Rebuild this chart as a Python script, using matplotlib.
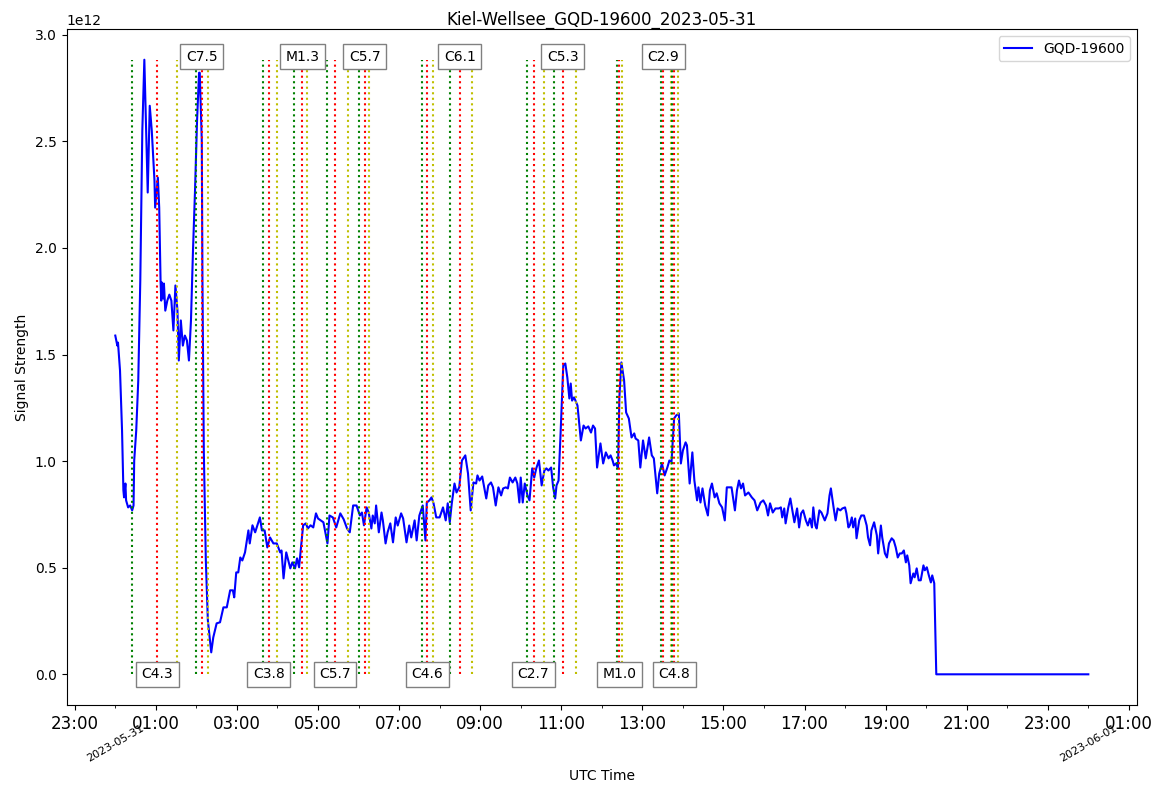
import matplotlib
matplotlib.use("Agg")
import matplotlib.pyplot as plt
import matplotlib.dates as mdates
import numpy as np

# Signal readings: minutes after 2023-05-31 00:00 UTC, value in units of 1e12
minutes = [0, 3, 4, 7, 10, 12, 13, 15, 16, 19, 22, 25, 27, 28, 31, 34, 37, 40, 43, 48,
           51, 54, 58, 59, 63, 65, 67, 68, 69, 71, 72, 74, 77, 80, 83, 86, 89, 92, 94, 97,
           100, 103, 106, 109, 112, 115, 118, 121, 124, 125, 128, 129, 131, 134, 137, 142,
           145, 150, 155, 160, 165, 170, 174, 176, 179, 182, 185, 188, 192, 197, 199, 203,
           207, 214, 217, 221, 225, 229, 234, 239, 244, 246, 249, 253, 256, 259, 262, 266,
           269, 272, 278, 282, 285, 289, 293, 297, 300, 308, 314, 317, 322, 327, 333, 338,
           343, 347, 352, 357, 362, 365, 368, 372, 375, 379, 381, 384, 386, 390, 394, 396,
           400, 403, 407, 411, 415, 418, 423, 426, 431, 435, 438, 443, 446, 450, 455, 459,
           461, 465, 468, 471, 475, 480, 485, 489, 492, 495, 498, 502, 505, 509, 513, 518,
           522, 526, 530, 534, 536, 539, 543, 546, 549, 552, 556, 559, 563, 567, 571, 574,
           578, 581, 584, 588, 592, 595, 598, 600, 603, 606, 610, 613, 617, 620, 623, 627,
           631, 635, 638, 641, 645, 648, 651, 653, 656, 659, 663, 666, 669, 672, 674, 676,
           679, 684, 689, 693, 696, 700, 704, 707, 710, 713, 718, 722, 726, 730, 733, 736,
           738, 741, 744, 746, 749, 753, 756, 760, 764, 768, 770, 774, 777, 781, 785, 790,
           794, 797, 802, 805, 809, 813, 817, 820, 823, 827, 830, 834, 837, 840, 844, 846,
           850, 854, 857, 861, 863, 866, 869, 873, 877, 880, 883, 887, 890, 894, 898, 902,
           905, 912, 917, 920, 923, 926, 929, 932, 937, 942, 946, 950, 955, 959, 963, 966,
           969, 973, 977, 982, 985, 987, 990, 992, 996, 999, 1002, 1005, 1009, 1012, 1015,
           1018, 1022, 1025, 1028, 1031, 1033, 1036, 1038, 1042, 1045, 1050, 1054, 1057,
           1059, 1063, 1066, 1069, 1073, 1076, 1080, 1082, 1085, 1087, 1090, 1092, 1095,
           1097, 1101, 1104, 1108, 1112, 1114, 1117, 1119, 1123, 1127, 1129, 1133, 1135,
           1139, 1142, 1145, 1149, 1152, 1155, 1158, 1161, 1164, 1167, 1170, 1172, 1175,
           1177, 1181, 1183, 1186, 1189, 1192, 1196, 1198, 1201, 1204, 1207, 1209, 1212,
           1215, 1300, 1440]
signal = [1.589, 1.542, 1.556, 1.425, 1.144, 0.863, 0.830, 0.895, 0.816, 0.783, 0.792, 0.769,
          0.792, 1.003, 1.144, 1.378, 1.847, 2.550, 2.883, 2.260, 2.667, 2.550, 2.316, 2.189,
          2.330, 2.189, 1.847, 1.753, 1.838, 1.763, 1.833, 1.706, 1.753, 1.781, 1.753, 1.613,
          1.824, 1.706, 1.472, 1.660, 1.542, 1.589, 1.566, 1.472, 1.660, 1.988, 2.269, 2.597,
          2.822, 2.822, 2.503, 1.847, 1.050, 0.534, 0.253, 0.103, 0.173, 0.239, 0.244, 0.314,
          0.314, 0.394, 0.394, 0.361, 0.478, 0.478, 0.548, 0.534, 0.572, 0.675, 0.614, 0.699,
          0.666, 0.736, 0.675, 0.675, 0.595, 0.642, 0.614, 0.614, 0.572, 0.581, 0.450, 0.572,
          0.534, 0.497, 0.525, 0.497, 0.544, 0.502, 0.699, 0.708, 0.684, 0.699, 0.689, 0.755,
          0.731, 0.713, 0.614, 0.745, 0.736, 0.689, 0.755, 0.727, 0.684, 0.666, 0.792, 0.792,
          0.745, 0.759, 0.699, 0.783, 0.759, 0.684, 0.745, 0.708, 0.792, 0.666, 0.759, 0.722,
          0.614, 0.666, 0.708, 0.619, 0.736, 0.698, 0.755, 0.731, 0.619, 0.698, 0.642, 0.722,
          0.628, 0.745, 0.792, 0.628, 0.806, 0.816, 0.830, 0.802, 0.736, 0.736, 0.783, 0.722,
          0.802, 0.713, 0.802, 0.895, 0.853, 0.877, 1.003, 1.027, 0.942, 0.769, 0.900, 0.895,
          0.933, 0.909, 0.928, 0.877, 0.825, 0.886, 0.900, 0.877, 0.792, 0.877, 0.839, 0.872,
          0.877, 0.872, 0.923, 0.900, 0.923, 0.895, 0.806, 0.923, 0.806, 0.895, 0.839, 0.816,
          0.966, 0.923, 0.966, 1.003, 0.886, 0.956, 0.966, 0.956, 0.970, 0.877, 0.825, 0.886,
          0.909, 1.130, 1.449, 1.458, 1.392, 1.294, 1.364, 1.284, 1.299, 1.261, 1.097, 1.167,
          1.153, 1.163, 1.134, 1.167, 1.153, 0.970, 1.083, 0.989, 1.041, 1.013, 1.027, 1.003,
          0.980, 0.989, 0.966, 1.299, 1.463, 1.378, 1.228, 1.200, 1.111, 1.130, 1.106, 1.097,
          0.970, 1.097, 1.013, 1.111, 1.027, 1.013, 0.849, 0.942, 0.989, 0.933, 0.970, 1.003,
          0.989, 1.200, 1.214, 1.224, 0.989, 1.050, 1.088, 1.074, 0.895, 1.041, 0.909, 0.816,
          0.877, 0.806, 0.872, 0.792, 0.745, 0.863, 0.895, 0.830, 0.849, 0.802, 0.783, 0.722,
          0.877, 0.877, 0.769, 0.863, 0.909, 0.872, 0.895, 0.839, 0.853, 0.830, 0.816, 0.769,
          0.806, 0.816, 0.792, 0.745, 0.802, 0.759, 0.778, 0.778, 0.783, 0.736, 0.778, 0.708,
          0.783, 0.825, 0.769, 0.713, 0.778, 0.689, 0.755, 0.769, 0.722, 0.698, 0.731, 0.689,
          0.783, 0.698, 0.684, 0.769, 0.759, 0.722, 0.755, 0.839, 0.872, 0.783, 0.722, 0.778,
          0.769, 0.778, 0.783, 0.755, 0.689, 0.698, 0.736, 0.689, 0.731, 0.638, 0.722, 0.745,
          0.745, 0.698, 0.642, 0.605, 0.675, 0.713, 0.652, 0.567, 0.698, 0.642, 0.567, 0.548,
          0.614, 0.638, 0.628, 0.595, 0.548, 0.567, 0.567, 0.581, 0.525, 0.558, 0.511, 0.427,
          0.473, 0.455, 0.497, 0.441, 0.441, 0.511, 0.488, 0.502, 0.464, 0.431, 0.464, 0.427,
          0.0, 0.0, 0.0]

# Flare events (start / peak / end, UTC) and their classes
starts = ['00:25', '02:00', '03:38', '04:24', '05:14', '06:00', '07:34', '08:15',
          '10:09', '10:49', '12:23', '13:27', '13:44']
peaks = ['01:02', '02:08', '03:47', '04:37', '05:25', '06:09', '07:42', '08:30',
         '10:19', '11:02', '12:26', '13:31', '13:47']
ends = ['01:31', '02:17', '03:59', '04:43', '05:45', '06:15', '07:50', '08:48',
        '10:34', '11:22', '12:30', '13:42', '13:53']
classes = ['C4.3', 'C7.5', 'C3.8', 'M1.3', 'C5.7', 'C5.7', 'C4.6', 'C6.1',
           'C2.7', 'C5.3', 'M1.0', 'C2.9', 'C4.8']

day = '2023-05-31'
t0 = np.datetime64(day + 'T00:00')
times = t0 + np.array(minutes, dtype='timedelta64[m]')
values = np.array(signal) * 1e12


def to_time(hhmm):
    return np.datetime64(day + 'T' + hhmm)


fig, ax = plt.subplots(figsize=(11.69, 7.92), dpi=100)
fig.subplots_adjust(left=0.057, right=0.9726, top=0.9634, bottom=0.1098)

ax.plot(times, values, color='b', label='GQD-19600')

top = values.max()
for i, name in enumerate(classes):
    ax.vlines(to_time(starts[i]), 0, top, colors='g', linestyles=':')
    ax.vlines(to_time(peaks[i]), 0, top, colors='r', linestyles=':')
    ax.vlines(to_time(ends[i]), 0, top, colors='y', linestyles=':')
    y_text = 0 if i % 2 == 0 else top * 1.005
    ax.text(to_time(peaks[i]), y_text, name, ha='center', va='center', fontsize=10,
            bbox=dict(facecolor='white', edgecolor='gray'))

ax.xaxis.set_major_locator(mdates.HourLocator(byhour=range(1, 24, 2)))
ax.xaxis.set_major_formatter(mdates.DateFormatter('%H:%M'))
ax.xaxis.set_minor_locator(mdates.HourLocator(byhour=range(0, 24, 2)))


def minor_fmt(x, pos=None):
    d = mdates.num2date(x)
    return d.strftime('%Y-%m-%d') if d.hour == 0 else ''


ax.xaxis.set_minor_formatter(plt.FuncFormatter(minor_fmt))
ax.tick_params(axis='x', which='major', labelsize=12)
ax.tick_params(axis='x', which='minor', labelsize=8, pad=11)
for lbl in ax.xaxis.get_minorticklabels():
    lbl.set_rotation(30)
    lbl.set_ha('center')

ax.set_title('Kiel-Wellsee_GQD-19600_2023-05-31', pad=1)
ax.set_xlabel('UTC Time')
ax.set_ylabel('Signal Strength')
ax.legend(loc='upper right')

fig.savefig('out.png', dpi=100)
